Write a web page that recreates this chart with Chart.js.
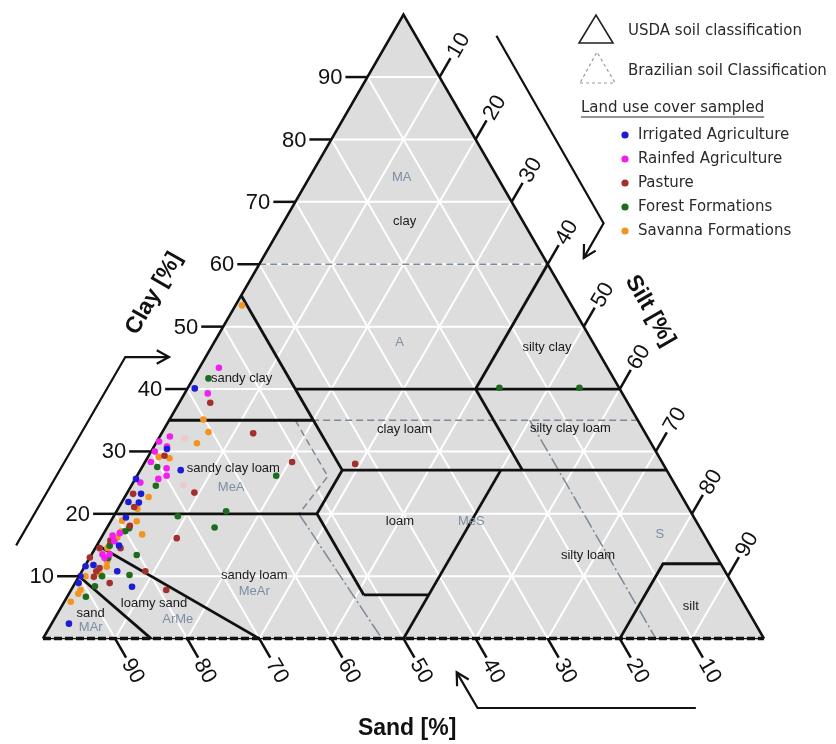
<!DOCTYPE html>
<html><head><meta charset="utf-8">
<script src="https://cdn.jsdelivr.net/npm/chart.js@4"></script>
<style>html,body{margin:0;padding:0;background:#fff;overflow:hidden}canvas{display:block}</style>
</head><body>
<canvas id="c" width="836" height="744"></canvas>
<script>
// ---- data (percentages; silt = 100 - sand - clay) ----
const irrigatedClay = [40.1,30.4,27.0,25.6,23.2,21.9,21.8,19.4,14.9,11.8,11.6,10.0,8.9,10.8,8.3,2.4];
const irrigatedSand = [58.9,67.6,67.4,74.3,74.8,77.2,75.8,78.8,82.0,87.1,88.3,89.8,90.6,84.3,83.5,95.2];
const rainfedClay = [43.4,39.3,32.4,31.6,30.8,30.0,27.3,26.1,25.6,25.0,28.3,16.9,16.5,15.6,13.5,13.5,12.9];
const rainfedSand = [53.9,57.5,66.2,68.1,67.4,69.5,69.2,69.8,71.2,74.0,70.9,80.9,82.1,82.3,85.0,84.0,85.0];
const pastureClay = [37.8,32.9,29.3,28.3,28.0,23.4,23.2,21.1,18.1,16.1,15.7,14.5,14.5,13.0,11.3,10.8,9.9,8.9,10.8,7.8];
const pastureSand = [57.9,54.4,68.5,51.3,42.7,67.3,75.9,76.8,78.9,73.4,82.8,82.0,84.9,87.0,86.5,87.2,88.0,86.3,80.4,79.0];
const forestClay = [41.7,27.5,24.5,26.1,19.6,20.4,17.8,17.7,17.2,14.9,12.9,13.4,10.2,10.0,8.4,6.7,40.2,40.2];
const forestSand = [56.2,70.4,72.1,54.6,71.5,64.4,67.3,79.2,80.0,83.3,84.5,80.3,82.9,86.8,88.6,90.7,16.6,5.5];
const savannaClay = [53.4,35.1,33.1,31.3,29.1,28.9,22.7,20.8,18.9,18.8,17.2,16.7,16.2,14.5,13.0,12.4,11.5,10.3,10.0,7.8,7.2,5.9];
const savannaSand = [45.7,60.2,60.5,63.0,69.4,68.0,74.0,76.5,79.6,77.6,80.5,77.9,81.6,83.8,84.9,84.9,85.4,86.9,89.1,90.9,91.5,93.2];
const faintClay = [32.1,24.6];
const faintSand = [64.3,68.2];
const tickValues = [10,20,30,40,50,60,70,80,90];
const seriesNames = ['Irrigated Agriculture','Rainfed Agriculture','Pasture','Forest Formations','Savanna Formations'];

// USDA class boundaries as [sand, clay] polylines
const usdaLines = [
  [[45,55],[45,35]], [[45,40],[0,40]], [[20,40],[0,60]], [[65,35],[45,35]],
  [[45,35],[45,27],[52,20],[52,7]], [[80,20],[52,20]], [[45,27],[0,27]],
  [[20,40],[20,27]], [[23,27],[50,0]], [[52,7],[43,7]], [[85,15],[70,0]],
  [[90,10],[85,0]], [[20,0],[8,12],[0,12]]
];
// Brazilian class boundaries
const brDashed = [ [[40,60],[0,60]], [[65,35],[0,35]], [[47.5,35],[47.5,26],[54.5,20]] ];
const brDashDot = [ [[54.5,20],[53,0]], [[15,35],[15,0]] ];
const usdaLabels = [['clay',16.4,66.9],['sandy clay',51.6,41.7],['silty clay',6.8,46.6],['clay loam',33.1,33.5],
  ['silty clay loam',10,33.7],['sandy clay loam',60,27.2],['loam',41.1,18.8],['silty loam',17.7,13.4],
  ['silt',7.6,5.1],['sandy loam',65.6,10.2],['loamy sand',81.8,5.6],['sand',91.4,4.0]];
const brLabels = [['MA',13.3,73.9],['A',26.8,47.5],['MeA',61.8,24.2],['MeS',31.2,18.8],['S',6.1,16.7],
  ['MeAr',66.9,7.6],['ArMe',79.8,3.0],['MAr',92.5,1.75]];

const SQ = Math.sqrt(3)/2;
function cart(sand, clay){ const silt = 100 - sand - clay; return {x: silt + clay/2, y: clay*SQ}; }
function pts(sandArr, clayArr){ return sandArr.map((s,i)=>cart(s, clayArr[i])); }

const colors = ['#1c1cd2','#f020ee','#a3302c','#1d6b1d','#f39422'];

function seg(ctx, p){ ctx.beginPath(); ctx.moveTo(p[0][0],p[0][1]); for(let i=1;i<p.length;i++) ctx.lineTo(p[i][0],p[i][1]); ctx.stroke(); }
function head(ctx, from, tip, len){
  const a = Math.atan2(tip[1]-from[1], tip[0]-from[0]);
  ctx.beginPath();
  ctx.moveTo(tip[0]-len*Math.cos(a-0.5), tip[1]-len*Math.sin(a-0.5));
  ctx.lineTo(tip[0], tip[1]);
  ctx.lineTo(tip[0]-len*Math.cos(a+0.5), tip[1]-len*Math.sin(a+0.5));
  ctx.stroke();
}

const ternary = {
  id:'ternary',
  beforeDatasetsDraw(chart){
    const ctx=chart.ctx, xs=chart.scales.x, ys=chart.scales.y;
    const P=(s,c)=>{const q=cart(s,c); return [xs.getPixelForValue(q.x), ys.getPixelForValue(q.y)];};
    ctx.save();
    const A=P(100,0), B=P(0,0), C=P(0,100);
    ctx.beginPath(); ctx.moveTo(...A); ctx.lineTo(...B); ctx.lineTo(...C); ctx.closePath();
    ctx.fillStyle='#dddddd'; ctx.fill();
    // grid
    ctx.strokeStyle='#ffffff'; ctx.lineWidth=2;
    tickValues.forEach(k=>{
      seg(ctx,[P(100-k,k),P(0,k)]);
      seg(ctx,[P(k,0),P(k,100-k)]);
      seg(ctx,[P(100-k,0),P(0,100-k)]);
    });
    // Brazilian
    ctx.strokeStyle='#7c8a98'; ctx.lineWidth=1.5;
    ctx.setLineDash([7,4]);
    brDashed.forEach(l=>seg(ctx,l.map(p=>P(p[0],p[1]))));
    ctx.setLineDash([14,3,2,3]);
    brDashDot.forEach(l=>seg(ctx,l.map(p=>P(p[0],p[1]))));
    ctx.setLineDash([]);
    // USDA
    ctx.strokeStyle='#111'; ctx.lineWidth=2.8; ctx.lineJoin='miter';
    usdaLines.forEach(l=>seg(ctx,l.map(p=>P(p[0],p[1]))));
    // outer edges
    ctx.lineWidth=2.6;
    seg(ctx,[A,C,B]);
    ctx.lineWidth=1.2; seg(ctx,[A,B]);
    ctx.lineWidth=3.5; ctx.setLineDash([8,3]); seg(ctx,[A,B]); ctx.setLineDash([]);
    // labels
    ctx.textAlign='center'; ctx.textBaseline='middle';
    ctx.font='13px "Liberation Sans", Arial, sans-serif'; ctx.fillStyle='#1a1a1a';
    usdaLabels.forEach(l=>{const p=P(l[1],l[2]); ctx.fillText(l[0],p[0],p[1]);});
    ctx.fillStyle='#7d8ea2';
    brLabels.forEach(l=>{const p=P(l[1],l[2]); ctx.fillText(l[0],p[0],p[1]);});
    ctx.restore();
  },
  afterDatasetsDraw(chart){
    const ctx=chart.ctx, xs=chart.scales.x, ys=chart.scales.y;
    const P=(s,c)=>{const q=cart(s,c); return [xs.getPixelForValue(q.x), ys.getPixelForValue(q.y)];};
    const U=(cx,cy)=>[xs.getPixelForValue(cx), ys.getPixelForValue(cy)];
    ctx.save();
    ctx.strokeStyle='#111'; ctx.fillStyle='#111'; ctx.lineWidth=2.5;
    ctx.font='22px "Liberation Sans", Arial, sans-serif';
    const T=22, D=37;
    tickValues.forEach(k=>{
      // clay (left)
      let p=P(100-k,k);
      seg(ctx,[p,[p[0]-T,p[1]]]);
      ctx.textAlign='right'; ctx.textBaseline='middle';
      ctx.fillText(String(k), p[0]-T-3, p[1]+1);
      // silt (right)
      p=P(0,100-k);
      let dx=0.5, dy=-SQ;
      seg(ctx,[p,[p[0]+dx*T,p[1]+dy*T]]);
      ctx.save(); ctx.translate(p[0]+dx*D, p[1]+dy*D); ctx.rotate(-Math.PI/3);
      ctx.textAlign='center'; ctx.fillText(String(k),0,1); ctx.restore();
      // sand (bottom)
      p=P(k,0);
      dx=0.5; dy=SQ;
      seg(ctx,[p,[p[0]+dx*T,p[1]+dy*T]]);
      ctx.save(); ctx.translate(p[0]+dx*D, p[1]+dy*D); ctx.rotate(Math.PI/3);
      ctx.textAlign='center'; ctx.fillText(String(k),0,1); ctx.restore();
    });
    // axis titles
    ctx.font='bold 23px "Liberation Sans", Arial, sans-serif';
    ctx.textAlign='center'; ctx.textBaseline='middle';
    let q=U(15.4,47.9); ctx.save(); ctx.translate(q[0],q[1]); ctx.rotate(-Math.PI/3); ctx.fillText('Clay [%]',0,0); ctx.restore();
    q=U(84.2,45.5); ctx.save(); ctx.translate(q[0],q[1]); ctx.rotate(Math.PI/3); ctx.fillText('Silt [%]',0,0); ctx.restore();
    q=U(50.5,-12.5); ctx.fillText('Sand [%]',q[0],q[1]);
    // arrows
    ctx.lineWidth=2.2; ctx.lineJoin='miter';
    let a=[U(-3.72,12.94),U(11.42,39.08),U(17.48,39.08)]; seg(ctx,a); head(ctx,a[1],a[2],14);
    a=[U(62.89,83.67),U(77.75,57.66),U(75.0,52.84)]; seg(ctx,a); head(ctx,a[1],a[2],14);
    a=[U(90.55,-9.63),U(60.27,-9.63),U(57.38,-4.68)]; seg(ctx,a); head(ctx,a[1],a[2],14);
    // legend
    ctx.font='15px "DejaVu Sans", Verdana, sans-serif'; ctx.fillStyle='#2a2a2a';
    ctx.textAlign='left'; ctx.textBaseline='middle';
    ctx.lineWidth=1.6; ctx.strokeStyle='#222';
    ctx.beginPath(); ctx.moveTo(579,43); ctx.lineTo(613,43); ctx.lineTo(596,15); ctx.closePath(); ctx.stroke();
    ctx.fillText('USDA soil classification',628,31);
    ctx.strokeStyle='#999'; ctx.lineWidth=1.2; ctx.setLineDash([3,3]);
    ctx.beginPath(); ctx.moveTo(580,83); ctx.lineTo(615,83); ctx.lineTo(597,52); ctx.closePath(); ctx.stroke();
    ctx.setLineDash([]);
    ctx.fillText('Brazilian soil Classification',628,71);
    ctx.fillText('Land use cover sampled',581,108);
    const w=ctx.measureText('Land use cover sampled').width;
    ctx.strokeStyle='#2a2a2a'; ctx.lineWidth=1; seg(ctx,[[581,117],[581+w,117]]);
    seriesNames.forEach((n,i)=>{
      const yy=135+i*24;
      ctx.fillStyle=colors[i]; ctx.beginPath(); ctx.arc(625,yy,3.6,0,Math.PI*2); ctx.fill();
      ctx.fillStyle='#2a2a2a'; ctx.fillText(n,638,yy);
    });
    ctx.restore();
  }
};

const mk=(label,data,color)=>({label,data,backgroundColor:color,borderWidth:0,pointRadius:3.3,pointHoverRadius:3.3});
new Chart(document.getElementById('c'),{
  type:'scatter',
  data:{datasets:[
    mk('faint',pts(faintSand,faintClay),'#f0c8c8'),
    mk(seriesNames[0],pts(irrigatedSand,irrigatedClay),colors[0]),
    mk(seriesNames[1],pts(rainfedSand,rainfedClay),colors[1]),
    mk(seriesNames[2],pts(pastureSand,pastureClay),colors[2]),
    mk(seriesNames[3],pts(forestSand,forestClay),colors[3]),
    mk(seriesNames[4],pts(savannaSand,savannaClay),colors[4])
  ]},
  options:{
    responsive:false, animation:false, devicePixelRatio:1,
    layout:{padding:0},
    plugins:{legend:{display:false},tooltip:{enabled:false}},
    events:[],
    scales:{
      x:{type:'linear',min:-5.504,max:109.53,display:false},
      y:{type:'linear',min:-14.17,max:88.18,display:false}
    }
  },
  plugins:[ternary]
});
</script>
</body></html>
